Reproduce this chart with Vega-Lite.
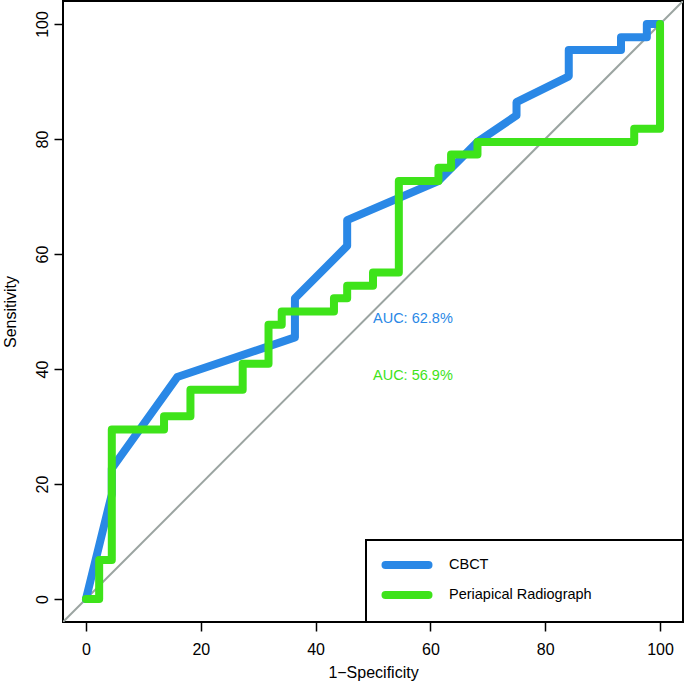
{
  "$schema": "https://vega.github.io/schema/vega-lite/v6.json",
  "width": 620,
  "height": 621,
  "autosize": "none",
  "padding": {"left": 63, "top": 1, "right": 2, "bottom": 60},
  "config": {
    "font": "Liberation Sans",
    "view": {"stroke": "black", "strokeWidth": 2},
    "axis": {
      "domain": false, "grid": false, "tickColor": "black", "tickWidth": 1.5, "tickSize": 9,
      "labelFontSize": 16, "labelColor": "black", "titleFontSize": 16, "titleFontWeight": "normal", "titleColor": "black"
    }
  },
  "datasets": {
    "diag": [{"x": -4, "y": -4}, {"x": 104, "y": 104}],
    "roc": [
      {"series": "CBCT", "pt": 0, "x": 0, "y": 0},
      {"series": "CBCT", "pt": 1, "x": 4.5, "y": 18.2},
      {"series": "CBCT", "pt": 2, "x": 4.5, "y": 22.7},
      {"series": "CBCT", "pt": 3, "x": 15.9, "y": 38.6},
      {"series": "CBCT", "pt": 4, "x": 36.4, "y": 45.5},
      {"series": "CBCT", "pt": 5, "x": 36.4, "y": 52.3},
      {"series": "CBCT", "pt": 6, "x": 45.5, "y": 61.4},
      {"series": "CBCT", "pt": 7, "x": 45.5, "y": 65.9},
      {"series": "CBCT", "pt": 8, "x": 61.4, "y": 72.7},
      {"series": "CBCT", "pt": 9, "x": 68.2, "y": 79.5},
      {"series": "CBCT", "pt": 10, "x": 75, "y": 84.1},
      {"series": "CBCT", "pt": 11, "x": 75, "y": 86.4},
      {"series": "CBCT", "pt": 12, "x": 84.1, "y": 90.9},
      {"series": "CBCT", "pt": 13, "x": 84.1, "y": 95.5},
      {"series": "CBCT", "pt": 14, "x": 93.2, "y": 95.5},
      {"series": "CBCT", "pt": 15, "x": 93.2, "y": 97.7},
      {"series": "CBCT", "pt": 16, "x": 97.7, "y": 97.7},
      {"series": "CBCT", "pt": 17, "x": 97.7, "y": 100},
      {"series": "CBCT", "pt": 18, "x": 100, "y": 100},
      {"series": "Periapical Radiograph", "pt": 0, "x": 0, "y": 0},
      {"series": "Periapical Radiograph", "pt": 1, "x": 2.3, "y": 0},
      {"series": "Periapical Radiograph", "pt": 2, "x": 2.3, "y": 6.8},
      {"series": "Periapical Radiograph", "pt": 3, "x": 4.5, "y": 6.8},
      {"series": "Periapical Radiograph", "pt": 4, "x": 4.5, "y": 29.5},
      {"series": "Periapical Radiograph", "pt": 5, "x": 13.6, "y": 29.5},
      {"series": "Periapical Radiograph", "pt": 6, "x": 13.6, "y": 31.8},
      {"series": "Periapical Radiograph", "pt": 7, "x": 18.2, "y": 31.8},
      {"series": "Periapical Radiograph", "pt": 8, "x": 18.2, "y": 36.4},
      {"series": "Periapical Radiograph", "pt": 9, "x": 27.3, "y": 36.4},
      {"series": "Periapical Radiograph", "pt": 10, "x": 27.3, "y": 40.9},
      {"series": "Periapical Radiograph", "pt": 11, "x": 31.8, "y": 40.9},
      {"series": "Periapical Radiograph", "pt": 12, "x": 31.8, "y": 47.7},
      {"series": "Periapical Radiograph", "pt": 13, "x": 34.1, "y": 47.7},
      {"series": "Periapical Radiograph", "pt": 14, "x": 34.1, "y": 50},
      {"series": "Periapical Radiograph", "pt": 15, "x": 43.2, "y": 50},
      {"series": "Periapical Radiograph", "pt": 16, "x": 43.2, "y": 52.3},
      {"series": "Periapical Radiograph", "pt": 17, "x": 45.5, "y": 52.3},
      {"series": "Periapical Radiograph", "pt": 18, "x": 45.5, "y": 54.5},
      {"series": "Periapical Radiograph", "pt": 19, "x": 50, "y": 54.5},
      {"series": "Periapical Radiograph", "pt": 20, "x": 50, "y": 56.8},
      {"series": "Periapical Radiograph", "pt": 21, "x": 54.5, "y": 56.8},
      {"series": "Periapical Radiograph", "pt": 22, "x": 54.5, "y": 72.7},
      {"series": "Periapical Radiograph", "pt": 23, "x": 61.4, "y": 72.7},
      {"series": "Periapical Radiograph", "pt": 24, "x": 61.4, "y": 75},
      {"series": "Periapical Radiograph", "pt": 25, "x": 63.6, "y": 75},
      {"series": "Periapical Radiograph", "pt": 26, "x": 63.6, "y": 77.3},
      {"series": "Periapical Radiograph", "pt": 27, "x": 68.2, "y": 77.3},
      {"series": "Periapical Radiograph", "pt": 28, "x": 68.2, "y": 79.5},
      {"series": "Periapical Radiograph", "pt": 29, "x": 95.5, "y": 79.5},
      {"series": "Periapical Radiograph", "pt": 30, "x": 95.5, "y": 81.8},
      {"series": "Periapical Radiograph", "pt": 31, "x": 100, "y": 81.8},
      {"series": "Periapical Radiograph", "pt": 32, "x": 100, "y": 100}
    ],
    "auc": [
      {"series": "CBCT", "label": "AUC: 62.8%", "x": 50, "y": 50},
      {"series": "Periapical Radiograph", "label": "AUC: 56.9%", "x": 50, "y": 40}
    ]
  },
  "encoding": {
    "x": {"field": "x", "type": "quantitative",
      "scale": {"domain": [-4, 104], "nice": false, "zero": false},
      "axis": {"values": [0, 20, 40, 60, 80, 100], "title": "1−Specificity", "labelPadding": 10, "titlePadding": 7}},
    "y": {"field": "y", "type": "quantitative",
      "scale": {"domain": [-4, 104], "nice": false, "zero": false},
      "axis": {"values": [0, 20, 40, 60, 80, 100], "title": "Sensitivity", "labelAngle": 270, "labelAlign": "center", "labelBaseline": "alphabetic", "labelPadding": 7, "titlePadding": 16}}
  },
  "layer": [
    {
      "data": {"name": "diag"},
      "mark": {"type": "line", "color": "#9BA4A1", "strokeWidth": 2, "clip": true},
      "encoding": {}
    },
    {
      "data": {"name": "roc"},
      "mark": {"type": "line", "strokeWidth": 8, "strokeJoin": "round", "strokeCap": "round"},
      "encoding": {
        "order": {"field": "pt", "type": "quantitative"},
        "color": {"field": "series", "type": "nominal",
          "scale": {"domain": ["CBCT", "Periapical Radiograph"], "range": ["#2A88E6", "#3EE31A"]},
          "legend": {
            "title": " ", "titleOrient": "right", "titlePadding": 80,
            "orient": "bottom-right", "offset": 0,
            "symbolType": "M-2.15,0H2.15", "symbolStrokeWidth": 8, "symbolSize": 400, "symbolOffset": 16,
            "labelFontSize": 14.5, "labelColor": "black", "labelOffset": 28,
            "rowPadding": -3, "padding": 11,
            "strokeColor": "black", "fillColor": "white",
            "encode": {
              "legend": {"update": {"strokeWidth": {"value": 2}}},
              "symbols": {"update": {"strokeCap": {"value": "round"}, "fill": {"value": "transparent"}}}
            }
          }}
      }
    },
    {
      "data": {"name": "auc"},
      "mark": {"type": "text", "align": "left", "baseline": "top", "fontSize": 14.5},
      "encoding": {
        "text": {"field": "label"},
        "color": {"field": "series", "type": "nominal"}
      }
    }
  ]
}
